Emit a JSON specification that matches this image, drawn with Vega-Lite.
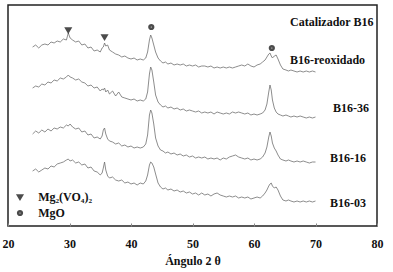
{
  "$schema": "https://vega.github.io/schema/vega-lite/v6.json",
  "width": 369,
  "height": 221,
  "autosize": {"type": "none"},
  "padding": {"left": 8, "top": 5, "right": 16, "bottom": 46},
  "background": "white",
  "config": {
    "view": {"stroke": "#222222", "strokeWidth": 1.5},
    "font": "Liberation Serif"
  },
  "datasets": {
    "xrd": [
      {"x":24,"reox":179,"s36":138,"s16":92,"s03":55},
      {"x":24.5,"reox":181,"s36":140,"s16":95,"s03":57},
      {"x":25,"reox":178,"s36":139,"s16":93,"s03":54},
      {"x":25.5,"reox":181,"s36":142,"s16":96,"s03":56},
      {"x":26,"reox":182,"s36":141,"s16":94,"s03":58},
      {"x":26.5,"reox":181,"s36":144,"s16":97,"s03":57},
      {"x":27,"reox":184,"s36":143,"s16":95,"s03":60},
      {"x":27.5,"reox":183,"s36":146,"s16":98,"s03":59},
      {"x":28,"reox":185,"s36":145,"s16":97,"s03":62},
      {"x":28.5,"reox":184,"s36":148,"s16":99,"s03":63},
      {"x":29,"reox":187,"s36":147,"s16":98,"s03":64},
      {"x":29.5,"reox":186,"s36":149,"s16":101,"s03":66},
      {"x":29.8,"reox":193,"s36":151,"s16":100,"s03":67},
      {"x":30.1,"reox":188,"s36":149,"s16":102,"s03":65},
      {"x":30.5,"reox":186,"s36":148,"s16":99,"s03":66},
      {"x":31,"reox":184,"s36":146,"s16":97,"s03":63},
      {"x":31.5,"reox":185,"s36":147,"s16":98,"s03":64},
      {"x":32,"reox":181,"s36":144,"s16":94,"s03":61},
      {"x":32.5,"reox":182,"s36":143,"s16":95,"s03":62},
      {"x":33,"reox":178,"s36":140,"s16":91,"s03":58},
      {"x":33.5,"reox":179,"s36":141,"s16":92,"s03":59},
      {"x":34,"reox":175,"s36":138,"s16":88,"s03":55},
      {"x":34.5,"reox":176,"s36":139,"s16":89,"s03":54},
      {"x":35,"reox":174,"s36":135,"s16":87,"s03":51},
      {"x":35.3,"reox":178,"s36":137,"s16":90,"s03":53},
      {"x":35.5,"reox":179,"s36":136,"s16":96,"s03":58},
      {"x":35.7,"reox":183,"s36":138,"s16":98,"s03":64},
      {"x":35.9,"reox":180,"s36":134,"s16":92,"s03":56},
      {"x":36.2,"reox":181,"s36":136,"s16":87,"s03":50},
      {"x":36.5,"reox":176,"s36":132,"s16":85,"s03":48},
      {"x":37,"reox":174,"s36":135,"s16":84,"s03":49},
      {"x":37.5,"reox":172,"s36":130,"s16":82,"s03":46},
      {"x":38,"reox":171,"s36":134,"s16":83,"s03":45},
      {"x":38.5,"reox":169,"s36":129,"s16":80,"s03":46},
      {"x":39,"reox":170,"s36":128,"s16":81,"s03":43},
      {"x":39.5,"reox":168,"s36":127,"s16":79,"s03":44},
      {"x":40,"reox":167,"s36":126,"s16":80,"s03":42},
      {"x":40.5,"reox":168,"s36":127,"s16":78,"s03":43},
      {"x":41,"reox":166,"s36":125,"s16":79,"s03":41},
      {"x":41.5,"reox":167,"s36":126,"s16":78,"s03":43},
      {"x":42,"reox":166,"s36":125,"s16":79,"s03":42},
      {"x":42.4,"reox":168,"s36":127,"s16":82,"s03":45},
      {"x":42.7,"reox":174,"s36":134,"s16":91,"s03":51},
      {"x":43.0,"reox":186,"s36":152,"s16":111,"s03":61},
      {"x":43.2,"reox":191,"s36":159,"s16":116,"s03":64},
      {"x":43.4,"reox":188,"s36":156,"s16":113,"s03":63},
      {"x":43.7,"reox":181,"s36":144,"s16":102,"s03":59},
      {"x":44,"reox":174,"s36":131,"s16":88,"s03":52},
      {"x":44.4,"reox":168,"s36":124,"s16":80,"s03":43},
      {"x":44.8,"reox":165,"s36":121,"s16":76,"s03":39},
      {"x":45.2,"reox":163,"s36":119,"s16":75,"s03":37},
      {"x":45.6,"reox":164,"s36":120,"s16":73,"s03":38},
      {"x":46,"reox":162,"s36":118,"s16":74,"s03":36},
      {"x":46.5,"reox":163,"s36":119,"s16":72,"s03":37},
      {"x":47,"reox":161,"s36":117,"s16":73,"s03":35},
      {"x":47.5,"reox":162,"s36":118,"s16":71,"s03":36},
      {"x":48,"reox":161,"s36":116,"s16":72,"s03":34},
      {"x":48.5,"reox":162,"s36":117,"s16":70,"s03":35},
      {"x":49,"reox":160,"s36":115,"s16":71,"s03":33},
      {"x":49.5,"reox":161,"s36":116,"s16":69,"s03":34},
      {"x":50,"reox":160,"s36":115,"s16":70,"s03":32},
      {"x":50.5,"reox":161,"s36":114,"s16":68,"s03":33},
      {"x":51,"reox":159,"s36":115,"s16":69,"s03":31},
      {"x":51.5,"reox":160,"s36":113,"s16":68,"s03":33},
      {"x":52,"reox":160,"s36":114,"s16":69,"s03":31},
      {"x":52.5,"reox":159,"s36":113,"s16":67,"s03":32},
      {"x":53,"reox":160,"s36":114,"s16":68,"s03":30},
      {"x":53.5,"reox":158,"s36":112,"s16":67,"s03":32},
      {"x":54,"reox":159,"s36":114,"s16":68,"s03":33},
      {"x":54.5,"reox":158,"s36":113,"s16":66,"s03":31},
      {"x":55,"reox":159,"s36":112,"s16":68,"s03":30},
      {"x":55.5,"reox":158,"s36":113,"s16":67,"s03":29},
      {"x":56,"reox":159,"s36":112,"s16":69,"s03":30},
      {"x":56.5,"reox":158,"s36":114,"s16":70,"s03":29},
      {"x":57,"reox":159,"s36":113,"s16":71,"s03":30},
      {"x":57.5,"reox":160,"s36":114,"s16":69,"s03":28},
      {"x":58,"reox":161,"s36":113,"s16":68,"s03":29},
      {"x":58.5,"reox":160,"s36":112,"s16":67,"s03":28},
      {"x":59,"reox":162,"s36":113,"s16":68,"s03":29},
      {"x":59.5,"reox":160,"s36":111,"s16":66,"s03":27},
      {"x":60,"reox":159,"s36":112,"s16":67,"s03":28},
      {"x":60.5,"reox":161,"s36":111,"s16":66,"s03":29},
      {"x":61,"reox":162,"s36":112,"s16":67,"s03":28},
      {"x":61.4,"reox":164,"s36":113,"s16":69,"s03":30},
      {"x":61.8,"reox":166,"s36":116,"s16":73,"s03":33},
      {"x":62.1,"reox":169,"s36":122,"s16":79,"s03":36},
      {"x":62.4,"reox":172,"s36":134,"s16":89,"s03":40},
      {"x":62.6,"reox":173,"s36":141,"s16":94,"s03":42},
      {"x":62.8,"reox":170,"s36":136,"s16":90,"s03":43},
      {"x":63.0,"reox":168,"s36":126,"s16":83,"s03":40},
      {"x":63.3,"reox":170,"s36":118,"s16":78,"s03":38},
      {"x":63.6,"reox":171,"s36":114,"s16":75,"s03":39},
      {"x":63.9,"reox":167,"s36":112,"s16":71,"s03":36},
      {"x":64.3,"reox":161,"s36":111,"s16":67,"s03":30},
      {"x":64.7,"reox":157,"s36":110,"s16":66,"s03":26},
      {"x":65.2,"reox":156,"s36":111,"s16":65,"s03":25},
      {"x":65.6,"reox":155,"s36":110,"s16":66,"s03":26},
      {"x":66,"reox":156,"s36":109,"s16":65,"s03":25},
      {"x":66.5,"reox":155,"s36":110,"s16":64,"s03":24},
      {"x":67,"reox":154,"s36":109,"s16":65,"s03":25},
      {"x":67.5,"reox":155,"s36":110,"s16":64,"s03":24},
      {"x":68,"reox":154,"s36":109,"s16":65,"s03":25},
      {"x":68.5,"reox":155,"s36":108,"s16":64,"s03":24},
      {"x":69,"reox":154,"s36":109,"s16":63,"s03":25},
      {"x":69.5,"reox":155,"s36":108,"s16":64,"s03":24},
      {"x":70,"reox":154,"s36":109,"s16":64,"s03":25}
    ],
    "markers": [
      {"x":29.8,"y":196,"phase":"Mg2(VO4)2"},
      {"x":35.7,"y":189,"phase":"Mg2(VO4)2"},
      {"x":43.3,"y":199,"phase":"MgO"},
      {"x":62.9,"y":178,"phase":"MgO"},
      {"x":21.95,"y":29,"phase":"Mg2(VO4)2"},
      {"x":21.95,"y":13,"phase":"MgO"}
    ],
    "labels": [
      {"x":65.85,"y":204,"text":"Catalizador B16"},
      {"x":65.85,"y":166,"text":"B16-reoxidado"},
      {"x":72.85,"y":118,"text":"B16-36"},
      {"x":72.35,"y":68,"text":"B16-16"},
      {"x":72.35,"y":23,"text":"B16-03"},
      {"x":24.9,"y":29,"text":"Mg₂(VO₄)₂"},
      {"x":24.9,"y":13,"text":"MgO"}
    ]
  },
  "layer": [
    {
      "data": {"name": "xrd"},
      "transform": [
        {"fold": ["reox", "s36", "s16", "s03"], "as": ["sample", "intensity"]}
      ],
      "mark": {"type": "line", "color": "#707070", "strokeWidth": 0.8},
      "encoding": {
        "x": {
          "field": "x", "type": "quantitative",
          "scale": {"domain": [20, 80], "nice": false, "zero": false},
          "axis": {
            "title": "Ángulo  2 θ",
            "values": [20, 25, 30, 35, 40, 45, 50, 55, 60, 65, 70, 75, 80],
            "labelExpr": "datum.value % 10 === 0 ? datum.label : ''",
            "domain": false,
            "grid": false,
            "tickSize": -3,
            "tickColor": "#888888",
            "labelPadding": 15,
            "labelFont": "Liberation Serif",
            "labelFontWeight": "bold",
            "labelFontSize": 12,
            "labelColor": "#111111",
            "labelFlush": false,
            "titleFont": "Liberation Serif",
            "titleFontWeight": "bold",
            "titleFontSize": 12,
            "titleColor": "#111111",
            "titlePadding": 6
          }
        },
        "y": {
          "field": "intensity", "type": "quantitative",
          "scale": {"domain": [0, 221], "nice": false, "zero": false},
          "axis": null
        },
        "detail": {"field": "sample"}
      }
    },
    {
      "data": {"name": "markers"},
      "mark": {"type": "point", "filled": false, "size": 14, "strokeWidth": 2.5},
      "encoding": {
        "x": {"field": "x", "type": "quantitative"},
        "y": {"field": "y", "type": "quantitative"},
        "shape": {
          "field": "phase", "type": "nominal",
          "scale": {"domain": ["Mg2(VO4)2", "MgO"], "range": ["triangle-down", "circle"]},
          "legend": null
        },
        "fill": {
          "field": "phase", "type": "nominal",
          "scale": {"domain": ["Mg2(VO4)2", "MgO"], "range": ["#000000", "#dddddd"]},
          "legend": null
        },
        "stroke": {"value": "#000000"}
      }
    },
    {
      "data": {"name": "labels"},
      "mark": {"type": "text", "align": "left", "baseline": "middle", "font": "Liberation Serif", "fontWeight": "bold", "fontSize": 12, "color": "#111111"},
      "encoding": {
        "x": {"field": "x", "type": "quantitative"},
        "y": {"field": "y", "type": "quantitative"},
        "text": {"field": "text"}
      }
    }
  ]
}
